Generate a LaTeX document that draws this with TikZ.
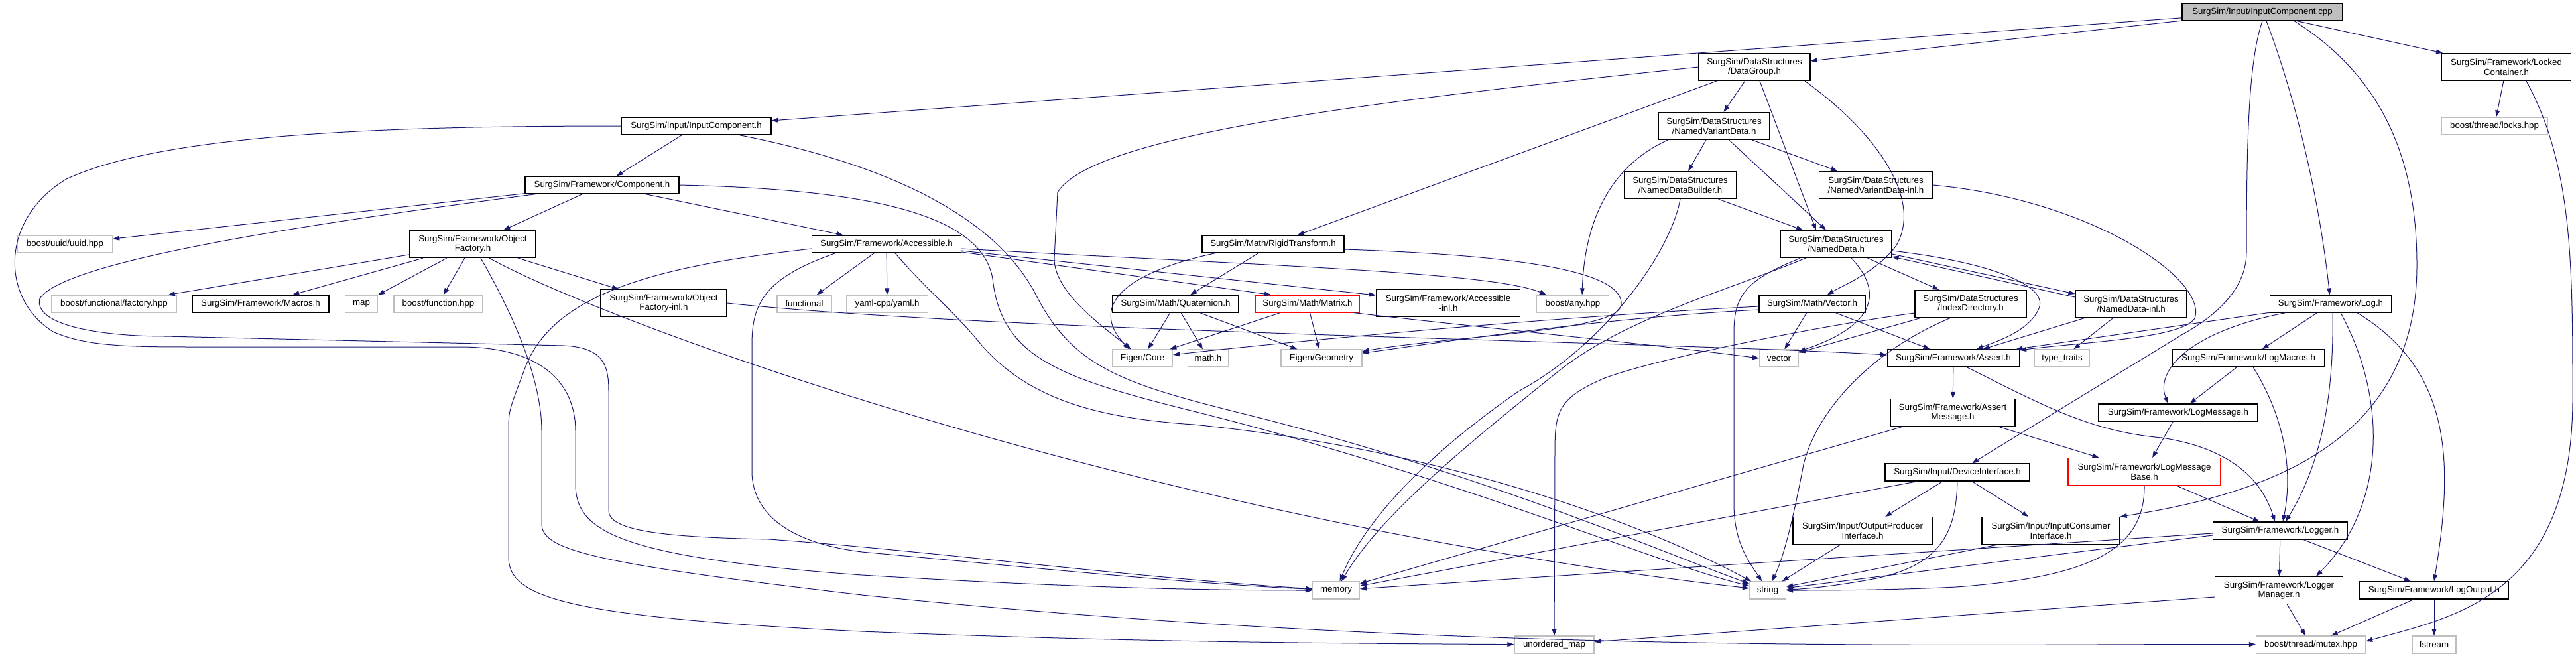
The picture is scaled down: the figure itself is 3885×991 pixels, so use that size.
\documentclass[tikz,border=0pt]{standalone}
\usepackage{fontspec}
\setmainfont{Liberation Sans}
\usetikzlibrary{arrows.meta}
\definecolor{edgeblue}{HTML}{191970}
\definecolor{sysgrey}{HTML}{BFBFBF}

\begin{document}
\begin{tikzpicture}[x=1pt, y=-1pt,
  hdr/.style={draw=black, line width=1.2pt, fill=white, align=center,
    inner xsep=2pt, inner ysep=0pt, minimum height=26pt,
    font=\fontsize{13.3}{14.5}\selectfont},
  hdr2/.style={hdr, minimum height=41pt},
  sys/.style={hdr, draw=sysgrey},
  trunc/.style={draw=red},
  dep/.style={draw=edgeblue, line width=1pt, -{Triangle[length=10pt,width=7pt]}}]
\useasboundingbox (0,0) rectangle (3885,991);

\node[hdr, fill=sysgrey, minimum width=242pt] (cpp) at (3412,18) {SurgSim/Input/InputComponent.cpp};
\node[hdr, minimum width=226pt] (icomp) at (1050,190) {SurgSim/Input/InputComponent.h};
\node[hdr2, minimum width=168pt] (dgroup) at (2646,101) {SurgSim/DataStructures\\/DataGroup.h};
\node[hdr2, minimum width=195pt] (locked) at (3780,101) {SurgSim/Framework/Locked\\Container.h};
\node[hdr, minimum width=232pt] (comp) at (908,279) {SurgSim/Framework/Component.h};
\node[hdr2, minimum width=168pt] (nvd) at (2585,190) {SurgSim/DataStructures\\/NamedVariantData.h};
\node[sys, minimum width=160pt] (locks) at (3762,190) {boost/thread/locks.hpp};
\node[hdr2, minimum width=169pt] (ndb) at (2534,279) {SurgSim/DataStructures\\/NamedDataBuilder.h};
\node[hdr2, minimum width=171pt] (nvdinl) at (2829,279) {SurgSim/DataStructures\\/NamedVariantData-inl.h};
\node[sys, minimum width=143pt] (uuid) at (98,368) {boost/uuid/uuid.hpp};
\node[hdr2, minimum width=190pt] (objf) at (713,368) {SurgSim/Framework/Object\\Factory.h};
\node[hdr, minimum width=225pt] (access) at (1337,368) {SurgSim/Framework/Accessible.h};
\node[hdr, minimum width=214pt] (rigid) at (1920,368) {SurgSim/Math/RigidTransform.h};
\node[hdr2, minimum width=168pt] (ndata) at (2769,368) {SurgSim/DataStructures\\/NamedData.h};
\node[sys, minimum width=189pt] (factory) at (172,458) {boost/functional/factory.hpp};
\node[hdr, minimum width=206pt] (macros) at (393,458) {SurgSim/Framework/Macros.h};
\node[sys, minimum width=49pt] (map) at (545,458) {map};
\node[sys, minimum width=134pt] (function) at (661,458) {boost/function.hpp};
\node[hdr2, minimum width=190pt] (objfinl) at (1001,457) {SurgSim/Framework/Object\\Factory-inl.h};
\node[sys, minimum width=82pt] (functional) at (1213,458) {functional};
\node[sys, minimum width=123pt] (yaml) at (1338,458) {yaml-cpp/yaml.h};
\node[hdr, minimum width=190pt] (quat) at (1773,458) {SurgSim/Math/Quaternion.h};
\node[hdr, trunc, minimum width=157pt] (matrix) at (1972,458) {SurgSim/Math/Matrix.h};
\node[hdr2, minimum width=217pt] (accinl) at (2184,457) {SurgSim/Framework/Accessible\\-inl.h};
\node[sys, minimum width=109pt] (any) at (2372,458) {boost/any.hpp};
\node[hdr, minimum width=160pt] (vec) at (2733,458) {SurgSim/Math/Vector.h};
\node[hdr2, minimum width=168pt] (idxdir) at (2972,458) {SurgSim/DataStructures\\/IndexDirectory.h};
\node[hdr2, minimum width=168pt] (ndinl) at (3214,458) {SurgSim/DataStructures\\/NamedData-inl.h};
\node[hdr, minimum width=183pt] (log) at (3515,458) {SurgSim/Framework/Log.h};
\node[sys, minimum width=91pt] (core) at (1723,540) {Eigen/Core};
\node[sys, minimum width=61pt] (math) at (1822,540) {math.h};
\node[sys, minimum width=122pt] (geom) at (1993,540) {Eigen/Geometry};
\node[sys, minimum width=59pt] (vector) at (2683,540) {vector};
\node[hdr, minimum width=199pt] (assert) at (2946,540) {SurgSim/Framework/Assert.h};
\node[sys, minimum width=83pt] (typetr) at (3110,540) {type\_traits};
\node[hdr, minimum width=229pt] (logmacros) at (3391,540) {SurgSim/Framework/LogMacros.h};
\node[hdr2, minimum width=188pt] (assertmsg) at (2945,622) {SurgSim/Framework/Assert\\Message.h};
\node[hdr, minimum width=240pt] (logmsg) at (3285,622) {SurgSim/Framework/LogMessage.h};
\node[hdr, minimum width=218pt] (devif) at (2952,712) {SurgSim/Input/DeviceInterface.h};
\node[hdr2, trunc, minimum width=230pt] (logmsgbase) at (3234,711) {SurgSim/Framework/LogMessage\\Base.h};
\node[hdr2, minimum width=210pt] (outprod) at (2809,800) {SurgSim/Input/OutputProducer\\Interface.h};
\node[hdr2, minimum width=208pt] (inpcons) at (3093,800) {SurgSim/Input/InputConsumer\\Interface.h};
\node[hdr, minimum width=203pt] (logger) at (3439,800) {SurgSim/Framework/Logger.h};
\node[sys, minimum width=71pt] (memory) at (2015,890) {memory};
\node[sys, minimum width=55pt] (string) at (2666,890) {string};
\node[hdr2, minimum width=193pt] (logmgr) at (3437,890) {SurgSim/Framework/Logger\\Manager.h};
\node[hdr, minimum width=225pt] (logout) at (3671,890) {SurgSim/Framework/LogOutput.h};
\node[sys, minimum width=120pt] (unord) at (2344,972) {unordered\_map};
\node[sys, minimum width=165pt] (mutex) at (3485,972) {boost/thread/mutex.hpp};
\node[sys, minimum width=66pt] (fstream) at (3671,972) {fstream};

\draw[dep] (cpp) -- (icomp);
\draw[dep] (cpp) -- (dgroup);
\draw[dep] ([xshift=52pt]cpp.south) -- (locked);
\draw[dep] ([xshift=6pt]cpp.south) .. controls (3470,170) and (3500,320) .. (log);
\draw[dep] (cpp.south) .. controls (3392,90) and (3388,200) .. (3388,380)
  .. controls (3388,440) and (3335,480) .. (3290,505) -- (devif);
\draw[dep] ([xshift=48pt]cpp.south) .. controls (3600,120) and (3645,250) .. (3645,400)
  .. controls (3645,650) and (3450,740) .. (inpcons.north east);

\draw[dep] (icomp) -- (comp);
\draw[dep] (icomp.west) .. controls (600,190) and (250,200) .. (100,270)
  .. controls (0,330) and (0,450) .. (80,500) .. controls (130,523) and (200,523) .. (300,523)
  -- (700,523) .. controls (820,525) and (868,580) .. (868,650) -- (868,730)
  .. controls (868,800) and (930,840) .. (1300,867) .. controls (1600,885) and (1800,890) .. (memory);
\draw[dep] ([xshift=65pt]icomp.south) .. controls (1350,250) and (1500,330) .. (1560,440)
  .. controls (1620,560) and (1700,580) .. (1900,630) .. controls (2250,720) and (2500,830) .. (string);

\draw[dep] (comp) -- (uuid);
\draw[dep] (comp) -- (objf);
\draw[dep] (comp) -- (access);
\draw[dep] ([xshift=-100pt]comp.south) .. controls (500,333) and (100,390) .. (60,450)
  .. controls (50,490) and (150,507) .. (250,507) -- (850,521)
  .. controls (910,524) and (918,550) .. (918,590) -- (918,770)
  .. controls (918,800) and (1000,810) .. (1160,813) .. controls (1400,830) and (1700,870) .. (memory);
\draw[dep] (comp.east) .. controls (1300,285) and (1480,320) .. (1497,420)
  .. controls (1510,540) and (1600,570) .. (1800,620) .. controls (2200,720) and (2500,850) .. (string);

\draw[dep] (objf) -- (factory);
\draw[dep] (objf) -- (macros);
\draw[dep] (objf) -- (map);
\draw[dep] (objf) -- (function);
\draw[dep] (objf) -- (objfinl);
\draw[dep] ([xshift=25pt]objf.south) .. controls (900,480) and (1700,780) .. (string);
\draw[dep] ([xshift=12pt]objf.south) .. controls (760,450) and (817,560) .. (817,650) -- (817,790)
  .. controls (817,830) and (900,850) .. (1300,897) .. controls (2200,990) and (3000,970) .. (mutex);
\draw[dep] (objfinl.east) .. controls (1500,500) and (2500,515) .. ([yshift=5pt]assert.west);

\draw[dep] (access) -- (functional);
\draw[dep] (access) -- (yaml);
\draw[dep] ([yshift=-12pt]access.east) -- ([xshift=-55pt]matrix.north);
\draw[dep] ([yshift=-10pt]access.east) -- ([yshift=12pt]accinl.west);
\draw[dep] ([yshift=-7pt]access.east) .. controls (1900,400) and (2250,410) .. ([xshift=-40pt]any.north);
\draw[dep] ([xshift=-77pt]access.south) .. controls (1150,420) and (1134,460) .. (1134,520) -- (1134,710)
  .. controls (1134,780) and (1200,820) .. (1300,832) .. controls (1600,860) and (1800,880) .. (memory);
\draw[dep] ([yshift=-7pt]access.west) .. controls (1000,400) and (830,440) .. (790,560)
  .. controls (767,620) .. (767,650) -- (767,840)
  .. controls (767,900) and (850,930) .. (1300,952) .. controls (1700,968) and (2000,970) .. (unord);
\draw[dep] ([xshift=13pt]access.south) .. controls (1400,440) and (1440,470) .. (1480,520)
  .. controls (1550,600) and (1650,630) .. (1800,640) .. controls (2200,680) and (2500,800) .. (string);

\draw[dep] (rigid) -- (quat);
\draw[dep] ([xshift=-87pt]rigid.south) .. controls (1700,410) and (1640,460) .. ([xshift=-20pt]core.north);
\draw[dep] ([yshift=-8pt]rigid.east) .. controls (2300,385) and (2450,410) .. (2445,460)
  .. controls (2440,500) and (2200,505) .. (geom);

\draw[dep] (quat) -- (core);
\draw[dep] (quat) -- (math);
\draw[dep] (quat) -- (geom);
\draw[dep] (matrix) -- (core);
\draw[dep] (matrix) -- (geom);
\draw[dep] ([xshift=70pt]matrix.south) .. controls (2200,490) and (2500,520) .. (vector.west);

\draw[dep] (dgroup) -- (nvd);
\draw[dep] (dgroup) -- ([xshift=-30pt]ndata.north);
\draw[dep] ([xshift=76pt]dgroup.south) .. controls (2830,200) and (2900,300) .. (2860,370)
  .. controls (2830,410) and (2780,430) .. (vec);
\draw[dep] (dgroup) -- (rigid);
\draw[dep] (dgroup.west) .. controls (2100,150) and (1650,200) .. (1595,290) -- (1590,390)
  .. controls (1590,440) and (1660,490) .. (core);

\draw[dep] (nvd) -- (ndb);
\draw[dep] (nvd) -- ([xshift=-15pt]ndata.north);
\draw[dep] (nvd) -- (nvdinl);
\draw[dep] ([xshift=-70pt]nvd.south) .. controls (2430,250) and (2390,330) .. ([xshift=14pt]any.north);

\draw[dep] (ndb) -- ([xshift=-50pt]ndata.north);
\draw[dep] (ndb.south) .. controls (2520,380) and (2420,520) .. (2290,590)
  .. controls (2160,680) and (2060,780) .. (memory);

\draw[dep] (nvdinl.east) .. controls (3150,300) and (3330,420) .. (3310,480)
  .. controls (3290,510) and (3150,515) .. (assert);

\draw[dep] (ndata) -- (idxdir);
\draw[dep] ([yshift=-15pt]ndata.east) -- ([yshift=15pt]ndinl.west);
\draw[dep] ([yshift=10pt]ndinl.west) -- ([yshift=-19pt]ndata.east);
\draw[dep] ([xshift=23pt]ndata.south) .. controls (2840,440) and (2830,490) .. (vector);
\draw[dep] ([yshift=-10pt]ndata.east) .. controls (3000,395) and (3090,430) .. (3075,465)
  .. controls (3060,500) and (3010,515) .. (assert);
\draw[dep] ([xshift=-54pt]ndata.south) .. controls (2640,420) and (2615,440) .. (2615,500) -- (2615,760)
  .. controls (2615,820) and (2640,850) .. (string);
\draw[dep] ([xshift=-46pt]ndata.south) .. controls (2600,440) and (2450,480) .. (2350,560)
  .. controls (2200,680) and (2080,780) .. (memory);

\draw[dep] (idxdir) -- (vector);
\draw[dep] ([xshift=-30pt]idxdir.south) .. controls (2820,530) and (2740,620) .. (2720,700)
  .. controls (2705,780) and (2690,840) .. (string);
\draw[dep] ([yshift=-14pt]idxdir.west) .. controls (2750,490) and (2500,540) .. (2420,570)
  .. controls (2350,600) and (2345,620) .. (2345,680) -- (unord);

\draw[dep] (vec) -- (vector);
\draw[dep] (vec) -- (assert);
\draw[dep] ([yshift=-4pt]vec.west) .. controls (2300,480) and (1900,520) .. (core);
\draw[dep] ([yshift=-9pt]vec.west) .. controls (2400,480) and (2150,520) .. (geom);

\draw[dep] (ndinl) -- (assert);
\draw[dep] (ndinl) -- (typetr);

\draw[dep] (log) -- (assert);
\draw[dep] (log) -- (logmacros);
\draw[dep] ([xshift=-68pt]log.south) .. controls (3300,500) and (3250,560) .. ([xshift=-15pt]logmsg.north);
\draw[dep] ([xshift=3pt]log.south) .. controls (3520,600) and (3500,700) .. ([xshift=8pt]logger.north);
\draw[dep] ([xshift=15pt]log.south) .. controls (3600,600) and (3600,760) .. ([xshift=56pt]logmgr.north);
\draw[dep] ([xshift=40pt]log.south) .. controls (3700,560) and (3700,700) .. (logout.north);

\draw[dep] (logmacros) -- (logmsg);
\draw[dep] ([xshift=7pt]logmacros.south) .. controls (3440,620) and (3460,700) .. ([xshift=4pt]logger.north);

\draw[dep] (assert) -- (assertmsg);
\draw[dep] ([xshift=20pt]assert.south) .. controls (3080,610) and (3150,650) .. (3260,660)
  .. controls (3360,675) and (3410,720) .. ([xshift=-8pt]logger.north);

\draw[dep] (assertmsg) -- (logmsgbase);
\draw[dep] ([xshift=-75pt]assertmsg.south) -- (memory);
\draw[dep] (logmsg) -- (logmsgbase);
\draw[dep] (logmsgbase) -- (logger);
\draw[dep] (logmsgbase.south) .. controls (3235,830) and (3150,870) .. (2950,885)
  .. controls (2850,890) and (2750,890) .. (string);

\draw[dep] (devif) -- (outprod);
\draw[dep] (devif) -- (inpcons);
\draw[dep] (devif.south) .. controls (2950,800) and (2930,850) .. (2830,872)
  .. controls (2760,885) and (2720,888) .. (string);
\draw[dep] ([xshift=-60pt]devif.south) -- (memory);
\draw[dep] (outprod) -- (string);
\draw[dep] ([xshift=-80pt]inpcons.south) -- (string);

\draw[dep] ([yshift=-7pt]logger.west) -- (string);
\draw[dep] ([yshift=-4pt]logger.west) -- (memory);
\draw[dep] (logger) -- (logmgr);
\draw[dep] (logger) -- (logout);
\draw[dep] ([yshift=-10pt]logmgr.west) -- (unord);
\draw[dep] (logmgr) -- (mutex);
\draw[dep] (logout) -- (mutex);
\draw[dep] (logout) -- (fstream);

\draw[dep] (locked) -- (locks);
\draw[dep] ([xshift=30pt]locked.south) .. controls (3880,250) and (3880,400) .. (3880,600)
  .. controls (3880,900) and (3700,930) .. ([yshift=5pt]mutex.east);
\end{tikzpicture}
\end{document}
